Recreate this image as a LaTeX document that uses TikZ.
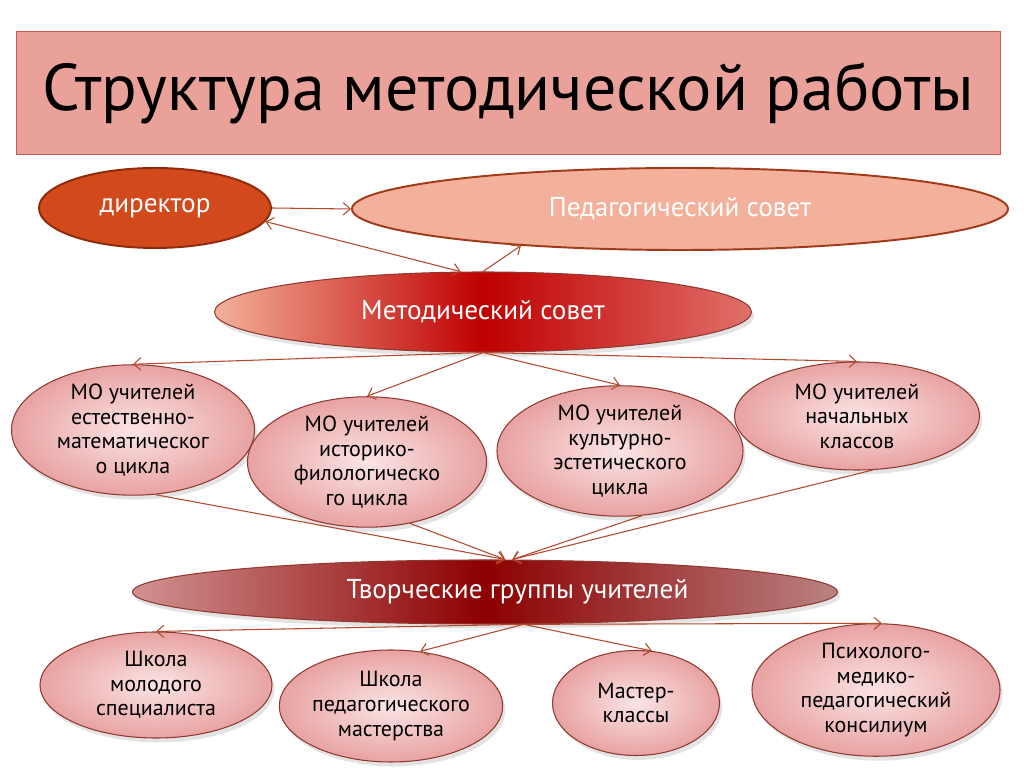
\documentclass[tikz,border=0pt]{standalone}
\usepackage{fontspec}
\setmainfont{PT Sans}
\usepackage{tikz}
\usetikzlibrary{shapes.geometric, arrows.meta, shadows}
\definecolor{titlefill}{HTML}{E9A19A}
\definecolor{titleline}{HTML}{C65A4F}
\definecolor{dirfill}{HTML}{D2491C}
\definecolor{dirline}{HTML}{8E2A0E}
\definecolor{pedfill}{HTML}{F3B09A}
\definecolor{pedline}{HTML}{A03A18}
\definecolor{metright}{HTML}{E0706A}
\definecolor{moinner}{HTML}{FBE4E4}
\definecolor{moouter}{HTML}{E8A2A2}
\definecolor{moline}{HTML}{8E3A30}
\definecolor{arrowc}{HTML}{B5482B}
\tikzstyle{topell} = [ellipse, inner sep=0pt, text=white, font=\fontsize{15.5}{18}\selectfont, line width=1.1pt]
\tikzstyle{moell} = [ellipse, inner sep=0pt, align=center, draw=moline, line width=0.6pt, inner color=moinner, outer color=moouter, font=\fontsize{12.5}{14}\selectfont, drop shadow={opacity=0.22, shadow xshift=1.5pt, shadow yshift=-2.5pt}]
\tikzstyle{arrow} = [line width=0.6pt, draw=arrowc, ->, >={Straight Barb[length=4pt,width=7pt]}]

\begin{document}
\begin{tikzpicture}[x=0.2mm, y=-0.2mm]
\useasboundingbox (0,0) rectangle (1024,768);
\fill[white] (0,0) rectangle (1024,768);
\node (title) at (508,93) [rectangle, draw=titleline, fill=titlefill, minimum width=196.8mm, minimum height=24.6mm, font=\fontsize{37.6}{40}\selectfont] {Структура методической работы};
\node (director) at (155,208) [topell, draw=dirline, fill=dirfill, minimum width=46.4mm, minimum height=16mm] {директор};
\node (pedsovet) at (680,209) [topell, draw=pedline, fill=pedfill, minimum width=131.2mm, minimum height=16.4mm] {Педагогический совет};
\node (metsovet) at (483,312) [topell, draw=moline, line width=0.6pt, left color=pedfill, right color=metright, middle color=red!75!black, minimum width=107.4mm, minimum height=16mm, drop shadow={opacity=0.22, shadow xshift=1.5pt, shadow yshift=-2.5pt}] {Методический совет};
\node (mo1) at (133,430) [moell, minimum width=48.6mm, minimum height=20.4mm] {МО учителей\\естественно-\\математическог\\о цикла};
\node (mo2) at (367,462) [moell, minimum width=47.8mm, minimum height=22.6mm] {МО учителей\\историко-\\филологическо\\го цикла};
\node (mo3) at (620,451) [moell, minimum width=49.2mm, minimum height=23.4mm] {МО учителей\\культурно-\\эстетического\\цикла};
\node (mo4) at (857,416) [moell, minimum width=49mm, minimum height=21.6mm] {МО учителей\\начальных\\классов};
\node (tvgr) at (485,592) [topell, draw=moline, line width=0.6pt, left color=moouter!90!black, right color=moouter!80!black, middle color=red!55!black, minimum width=141mm, minimum height=12.8mm, drop shadow={opacity=0.22, shadow xshift=1.5pt, shadow yshift=-2.5pt}] {\hspace*{13mm}Творческие группы учителей};
\node (sh1) at (156,685) [moell, minimum width=46.4mm, minimum height=21.2mm] {Школа\\молодого\\специалиста};
\node (sh2) at (391,706) [moell, minimum width=44.4mm, minimum height=22.4mm] {Школа\\педагогического\\мастерства};
\node (master) at (636,703) [moell, minimum width=33.4mm, minimum height=21mm] {Мастер-\\классы};
\node (konsil) at (876,690) [moell, minimum width=49.6mm, minimum height=20.8mm] {Психолого-\\медико-\\педагогический\\консилиум};
\draw[arrow] (director.east) -- (pedsovet.west);
\draw[arrow, <->] (director.-7) -- (metsovet.119);
\draw[arrow] (metsovet.north) -- (pedsovet.193);
\draw[arrow] (metsovet.south) -- (mo1.north);
\draw[arrow] (metsovet.south) -- (mo2.north);
\draw[arrow] (metsovet.south) -- (mo3.north);
\draw[arrow] (metsovet.south) -- (mo4.north);
\draw[arrow] (mo1.-71) -- (tvgr.58);
\draw[arrow] (mo2.-55) -- (tvgr.58);
\draw[arrow] (mo3.-71) -- (tvgr.50);
\draw[arrow] (mo4.-74) -- (tvgr.50);
\draw[arrow] (tvgr.-40) -- (sh1.north);
\draw[arrow] (tvgr.-40) -- (sh2.62);
\draw[arrow] (tvgr.-40) -- (master.73);
\draw[arrow] (tvgr.-40) -- (konsil.85);
\end{tikzpicture}
\end{document}
